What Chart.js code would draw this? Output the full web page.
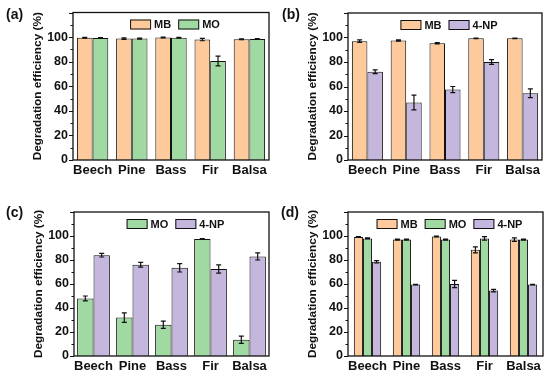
<!DOCTYPE html>
<html>
<head>
<meta charset="utf-8">
<script src="https://cdn.jsdelivr.net/npm/chart.js@4/dist/chart.umd.min.js"></script>
<style>
  body { margin: 0; background: #fff; }
  #wrap { position: relative; width: 550px; height: 376px; font-family: "Liberation Sans", Arial, sans-serif; }
  .panel { position: absolute; width: 275px; height: 188px; }
  .tag { position: absolute; font-weight: bold; font-size: 14px; color: #111; }
</style>
</head>
<body>
<div id="wrap">
  <div class="panel" style="left:0;top:0"><canvas id="ca" width="275" height="188"></canvas></div>
  <div class="panel" style="left:275px;top:0"><canvas id="cb" width="275" height="188"></canvas></div>
  <div class="panel" style="left:0;top:188px"><canvas id="cc" width="275" height="188"></canvas></div>
  <div class="panel" style="left:275px;top:188px"><canvas id="cd" width="275" height="188"></canvas></div>
  <div class="tag" style="left:6px;top:6px">(a)</div>
  <div class="tag" style="left:282px;top:6px">(b)</div>
  <div class="tag" style="left:6px;top:204px">(c)</div>
  <div class="tag" style="left:281px;top:204px">(d)</div>
</div>
<script>
// wood types
const woods = ['Beech', 'Pine', 'Bass', 'Fir', 'Balsa'];

// (a) MB + MO
const aMB = [99.5, 98.8, 99.6, 98.0, 98.3];
const aMBerr = [0.3, 0.6, 0.3, 1.0, 0.3];
const aMO = [99.3, 98.8, 99.5, 80.5, 98.5];
const aMOerr = [0.3, 0.4, 0.3, 4.0, 0.3];

// (b) MB + 4-NP
const bMB = [97.0, 97.5, 95.3, 99.3, 99.3];
const bMBerr = [1.0, 0.5, 0.5, 0.3, 0.3];
const bNP = [72.0, 47.0, 57.5, 80.0, 54.5];
const bNPerr = [1.5, 6.0, 2.5, 2.0, 3.5];

// (c) MO + 4-NP
const cMO = [48.0, 32.0, 26.0, 97.5, 13.5];
const cMOerr = [2.0, 4.0, 3.0, 0.3, 3.0];
const cNP = [84.0, 76.0, 73.5, 72.5, 83.0];
const cNPerr = [1.5, 2.0, 3.5, 3.5, 3.0];

// (d) MB + MO + 4-NP
const dMB = [99.2, 97.0, 99.6, 88.5, 97.0];
const dMBerr = [0.3, 0.5, 0.3, 2.5, 1.5];
const dMO = [98.0, 97.0, 97.0, 98.0, 97.0];
const dMOerr = [0.5, 0.5, 0.5, 1.5, 0.5];
const dNP = [78.5, 59.5, 60.0, 54.5, 59.5];
const dNPerr = [1.0, 0.3, 3.0, 1.0, 0.3];

const ORANGE = '#FECA9C';
const GREEN = '#A1D9A3';
const PURPLE = '#C4B6DC';
const FONT = '"Liberation Sans", Arial, sans-serif';

function ds(label, data, err, color) {
    return {label: label, data: data, err: err, backgroundColor: color, borderColor: '#111', borderWidth: 1};
}

// error bars, frame, minor ticks, legend inside the frame
const extras = {
    id: 'extras',
    afterDatasetsDraw(chart) {
        const ctx = chart.ctx;
        const y = chart.scales.y;
        ctx.save();
        ctx.strokeStyle = '#111';
        ctx.lineWidth = 1.2;
        chart.data.datasets.forEach((d, i) => {
            const meta = chart.getDatasetMeta(i);
            meta.data.forEach((bar, j) => {
                const v = d.data[j], e = d.err[j];
                const top = y.getPixelForValue(v + e), bot = y.getPixelForValue(v - e);
                ctx.beginPath();
                ctx.moveTo(bar.x, top); ctx.lineTo(bar.x, bot);
                ctx.moveTo(bar.x - 2.5, top); ctx.lineTo(bar.x + 2.5, top);
                ctx.moveTo(bar.x - 2.5, bot); ctx.lineTo(bar.x + 2.5, bot);
                ctx.stroke();
            });
        });
        ctx.restore();
    },
    afterDraw(chart) {
        const ctx = chart.ctx;
        const a = chart.chartArea;
        const y = chart.scales.y;
        ctx.save();
        ctx.strokeStyle = '#111';
        ctx.lineWidth = 1.3;
        ctx.strokeRect(a.left, a.top, a.right - a.left, a.bottom - a.top);

        // y ticks, outward
        ctx.lineWidth = 1;
        for (let v = 0; v <= 120; v += 10) {
            const py = Math.round(y.getPixelForValue(v)) + 0.5;
            const len = v % 20 === 0 ? 4 : 2.5;
            ctx.beginPath();
            ctx.moveTo(a.left, py); ctx.lineTo(a.left - len, py);
            ctx.stroke();
        }

        // legend
        ctx.font = 'bold 11px ' + FONT;
        ctx.textBaseline = 'middle';
        const boxW = 21, boxH = 10, gap = 3, sep = 7;
        const items = chart.data.datasets.map(d => ({d: d, w: boxW + gap + ctx.measureText(d.label).width}));
        const total = items.reduce((s, it) => s + it.w, 0) + sep * (items.length - 1);
        let x = (a.left + a.right) / 2 - total / 2 + 4;
        const cy = a.top + 12;
        items.forEach(it => {
            ctx.fillStyle = it.d.backgroundColor;
            ctx.fillRect(x, cy - boxH / 2, boxW, boxH);
            ctx.strokeRect(x + 0.5, cy - boxH / 2 + 0.5, boxW - 1, boxH - 1);
            ctx.fillStyle = '#111';
            ctx.fillText(it.d.label, x + boxW + gap, cy + 0.5);
            x += it.w + sep;
        });
        ctx.restore();
    }
};

function makeChart(id, datasets, pad, xh, catPct) {
    return new Chart(document.getElementById(id), {
        type: 'bar',
        data: {labels: woods, datasets: datasets},
        options: {
            responsive: false,
            animation: false,
            layout: {padding: pad},
            datasets: {bar: {categoryPercentage: catPct, barPercentage: 1.0}},
            plugins: {legend: {display: false}, tooltip: {enabled: false}},
            scales: {
                x: {
                    grid: {display: false, drawTicks: false},
                    border: {display: false},
                    ticks: {
                        color: '#111', padding: 3, autoSkip: false, maxRotation: 0, minRotation: 0,
                        font: {family: FONT, size: 13, weight: 'bold'}
                    },
                    afterFit: (s) => { s.height = xh; }
                },
                y: {
                    min: 0, max: 120,
                    grid: {display: false, drawTicks: false},
                    border: {display: false},
                    ticks: {
                        stepSize: 20, color: '#111', padding: 5,
                        font: {family: FONT, size: 12.5, weight: 'bold'},
                        callback: (v) => v <= 100 ? v : ''
                    },
                    title: {
                        display: true, text: 'Degradation efficiency (%)', color: '#111',
                        font: {family: FONT, size: 11.8, weight: 'bold'},
                        padding: {top: 31, bottom: 0}
                    },
                    afterFit: (s) => { s.width = 73; }
                }
            }
        },
        plugins: [extras]
    });
}

makeChart('ca', [ds('MB', aMB, aMBerr, ORANGE), ds('MO', aMO, aMOerr, GREEN)],
    {left: 0, top: 12, right: 6, bottom: 0}, 28, 0.8);
makeChart('cb', [ds('MB', bMB, bMBerr, ORANGE), ds('4-NP', bNP, bNPerr, PURPLE)],
    {left: 0, top: 13, right: 8, bottom: 0}, 28, 0.8);
makeChart('cc', [ds('MO', cMO, cMOerr, GREEN), ds('4-NP', cNP, cNPerr, PURPLE)],
    {left: 1, top: 24, right: 6, bottom: 0}, 20, 0.84);
makeChart('cd', [ds('MB', dMB, dMBerr, ORANGE), ds('MO', dMO, dMOerr, GREEN), ds('4-NP', dNP, dNPerr, PURPLE)],
    {left: 0, top: 24, right: 7, bottom: 0}, 20, 0.7);
</script>
</body>
</html>
